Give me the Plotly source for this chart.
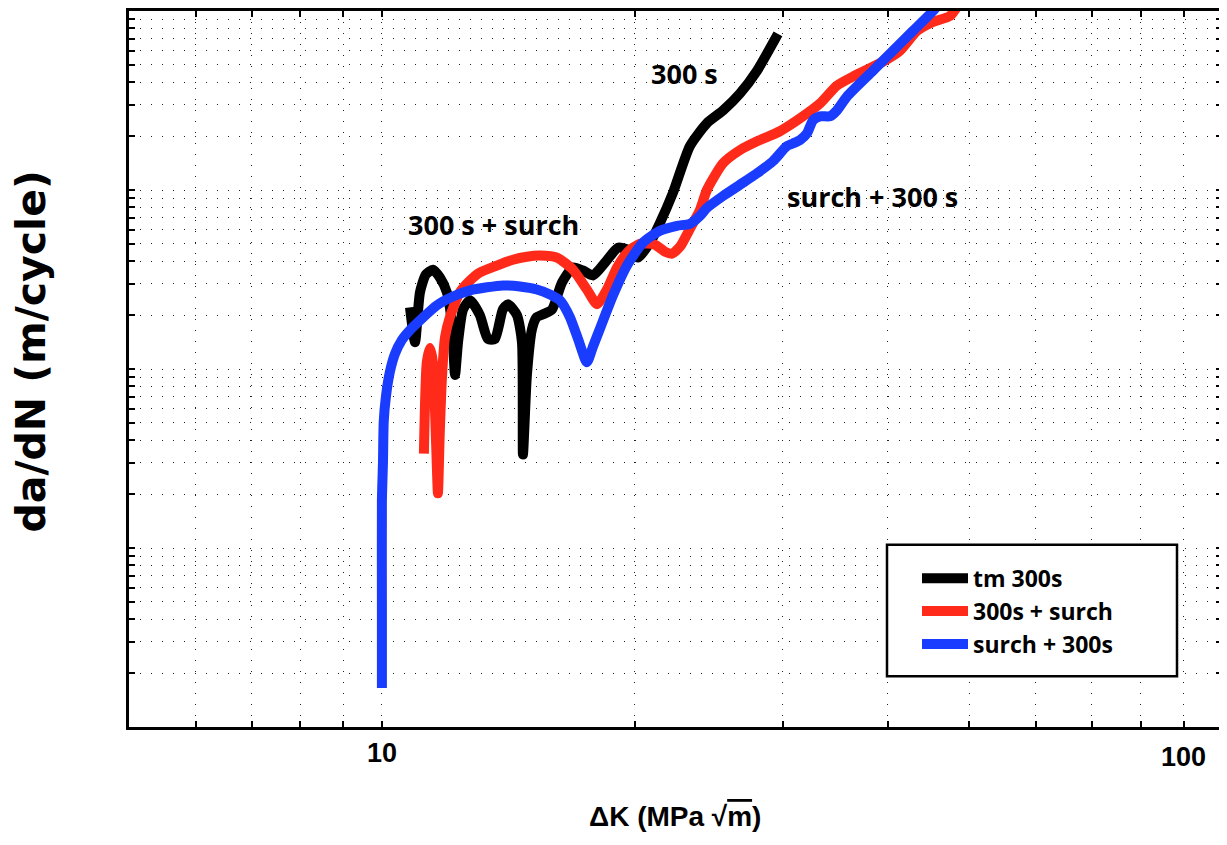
import plotly.graph_objects as go

# ---------------- data ----------------
dk_tm = [10.80, 10.95, 11.10, 11.28, 11.50, 11.72, 11.95, 12.12, 12.22, 12.32,
         12.49, 12.73, 13.08, 13.37, 13.63, 13.93, 14.13, 14.48, 14.68, 14.72,
         14.88, 15.09, 15.29, 15.55, 15.94, 16.38, 16.88, 17.35, 17.83, 18.43,
         19.10, 19.63, 20.17, 20.85, 21.43, 22.20, 23.26, 24.37, 25.47, 26.68,
         27.96, 29.61]
dadn_tm = [2.21e-8, 1.41e-8, 2.68e-8, 3.37e-8, 3.59e-8, 3.25e-8, 2.68e-8, 1.76e-8, 9.26e-9, 1.41e-8,
           2.15e-8, 2.42e-8, 2.00e-8, 1.47e-8, 1.47e-8, 2.15e-8, 2.30e-8, 2.00e-8, 1.41e-8, 3.33e-9,
           9.26e-9, 1.67e-8, 1.95e-8, 2.02e-8, 2.15e-8, 3.04e-8, 3.69e-8, 3.55e-8, 3.33e-8, 3.93e-8,
           4.76e-8, 4.64e-8, 4.19e-8, 5.08e-8, 6.56e-8, 9.62e-8, 1.76e-7, 2.36e-7, 2.78e-7, 3.46e-7,
           4.64e-7, 7.45e-7]

dk_300_surch = [11.22, 11.31, 11.41, 11.50, 11.60, 11.66, 11.72, 11.79, 11.89, 12.05,
                12.38, 12.73, 13.08, 13.70, 14.32, 14.88, 15.42, 16.16, 16.88, 17.54,
                18.03, 18.53, 19.05, 19.63, 20.28, 21.13, 21.73, 22.15, 22.64, 23.26,
                23.91, 24.37, 25.47, 26.68, 27.96, 29.77, 31.45, 33.22, 34.80, 36.57,
                39.49, 41.37, 43.34, 45.29, 47.45, 48.50, 49.58]
dadn_300_surch = [3.37e-9, 1.09e-8, 1.31e-8, 1.09e-8, 3.93e-9, 2.02e-9, 4.47e-9, 9.03e-9, 1.51e-8, 1.95e-8,
                  2.68e-8, 3.12e-8, 3.46e-8, 3.78e-8, 4.08e-8, 4.24e-8, 4.30e-8, 4.19e-8, 3.59e-8, 2.78e-8,
                  2.30e-8, 2.78e-8, 3.69e-8, 4.52e-8, 5.01e-8, 4.95e-8, 4.52e-8, 4.41e-8, 4.82e-8, 6.07e-8,
                  7.74e-8, 1.00e-7, 1.41e-7, 1.67e-7, 1.87e-7, 2.13e-7, 2.51e-7, 3.04e-7, 3.83e-7, 4.36e-7,
                  5.21e-7, 6.00e-7, 7.74e-7, 8.69e-7, 9.38e-7, 1.07e-6, 1.17e-6]

dk_surch_300 = [10.00, 10.00, 10.00, 10.03, 10.05, 10.11, 10.22, 10.36, 10.56, 10.80,
                11.10, 11.63, 12.15, 12.73, 13.34, 13.93, 14.60, 15.29, 15.85, 16.29,
                16.74, 17.12, 17.54, 17.83, 18.17, 18.84, 19.57, 20.45, 21.43, 22.45,
                23.26, 23.91, 24.37, 25.47, 26.68, 27.96, 29.21, 30.35, 30.85, 31.45,
                32.06, 32.59, 33.22, 34.15, 34.80, 35.78, 38.42, 40.58, 42.87, 45.29,
                46.80]
dadn_surch_300 = [1.65e-10, 5.08e-10, 1.82e-9, 3.04e-9, 5.08e-9, 6.99e-9, 9.62e-9, 1.21e-8, 1.45e-8, 1.65e-8,
                  1.87e-8, 2.27e-8, 2.54e-8, 2.75e-8, 2.86e-8, 2.93e-8, 2.89e-8, 2.78e-8, 2.61e-8, 2.42e-8,
                  1.95e-8, 1.47e-8, 1.09e-8, 1.33e-8, 1.67e-8, 2.58e-8, 3.78e-8, 5.08e-8, 5.92e-8, 6.31e-8,
                  6.47e-8, 7.17e-8, 7.94e-8, 9.26e-8, 1.07e-7, 1.24e-7, 1.45e-7, 1.76e-7, 1.82e-7, 1.90e-7,
                  2.07e-7, 2.45e-7, 2.58e-7, 2.58e-7, 2.78e-7, 3.33e-7, 4.64e-7, 6.00e-7, 7.74e-7, 1.00e-6,
                  1.21e-6]

series_names = ["tm 300s", "300s + surch", "surch + 300s"]
series_colors = ["#000000", "#FF2A1A", "#1A3CFF"]

x_tick_vals = [6, 7, 8, 9, 10, 20, 30, 40, 50, 60, 70, 80, 90, 100]
x_tick_text = ["", "", "", "", "10", "", "", "", "", "", "", "", "", ""]
y_tick_vals = [k * 10.0 ** e for e in (-10, -9, -8, -7) for k in range(1, 10)] + [1e-6]

curve_labels = ["300 s", "300 s + surch", "surch + 300 s"]

# ---------------- figure ----------------
fig = go.Figure()
for xs, ys, nm, col in zip([dk_tm, dk_300_surch, dk_surch_300],
                           [dadn_tm, dadn_300_surch, dadn_surch_300],
                           series_names, series_colors):
    fig.add_trace(go.Scatter(x=xs, y=ys, mode="lines", name=nm,
                             line=dict(color=col, width=10, shape="spline", smoothing=0.6)))

OFF = 8  # page body margin
W, H = 1219, 837
PL, PR, PT, PB = 121, 5, 0, 118
pw, ph = W - PL - PR, H - PT - PB

def px_x(p):
    return (p - OFF - PL) / pw

def px_y(p):
    return (H - PB - (p - OFF)) / ph

sans_b = "Open Sans, Lato, sans-serif"
cond = "Liberation Sans, Arial, sans-serif"

axis_common = dict(
    type="log", showline=True, linecolor="black", linewidth=2.5, mirror="allticks",
    ticks="inside", ticklen=6, tickcolor="black", tickwidth=1.5,
    showgrid=True, gridcolor="#222222", gridwidth=1, griddash="1px,10px",
    zeroline=False,
)

fig.update_layout(
    width=W, height=H,
    margin=dict(l=PL, r=PR, t=PT, b=PB),
    paper_bgcolor="white", plot_bgcolor="white",
    showlegend=True,
    xaxis=dict(axis_common, range=[0.69897, 2.0], tickvals=x_tick_vals, ticktext=x_tick_text,
               tickfont=dict(family=cond, size=27, color="black", weight="bold")),
    yaxis=dict(axis_common, range=[-10, -6], tickvals=y_tick_vals,
               ticktext=[""] * len(y_tick_vals)),
    legend=dict(x=px_x(917), y=px_y(556), xanchor="left", yanchor="top",
                bgcolor="rgba(0,0,0,0)", borderwidth=0, itemwidth=46,
                font=dict(family=sans_b, size=23, color="black", weight="bold"),
                tracegroupgap=0),
)

# legend frame
fig.add_shape(type="rect", xref="paper", yref="paper",
              x0=px_x(887), x1=px_x(1177), y0=px_y(676), y1=px_y(544),
              line=dict(color="black", width=2.5), fillcolor="white", layer="above")

# curve labels
for txt, cx, cy in zip(curve_labels, [684, 493, 872], [71, 222, 194]):
    fig.add_annotation(text=txt, xref="paper", yref="paper", x=px_x(cx), y=px_y(cy),
                       showarrow=False, xanchor="center", yanchor="middle",
                       font=dict(family=sans_b, size=27, color="black", weight="bold"))

# "100" tick label
fig.add_annotation(text="100", xref="paper", yref="paper", x=px_x(1183), y=px_y(757),
                   showarrow=False, xanchor="center", yanchor="middle",
                   font=dict(family=cond, size=27, color="black", weight="bold"))

# axis titles
fig.add_annotation(text='ΔK (MPa √<span style="text-decoration:overline">m</span>)',
                   xref="paper", yref="paper", x=px_x(675), y=px_y(817),
                   showarrow=False, xanchor="center", yanchor="middle",
                   font=dict(family=cond, size=28, color="black", weight="bold"))
fig.add_annotation(text="da/dN (m/cycle)", xref="paper", yref="paper",
                   x=px_x(31), y=px_y(350), textangle=-90,
                   showarrow=False, xanchor="center", yanchor="middle",
                   font=dict(family="DejaVu Sans, Verdana, sans-serif", size=41, color="black", weight="bold"))

fig.write_html("out.html")
